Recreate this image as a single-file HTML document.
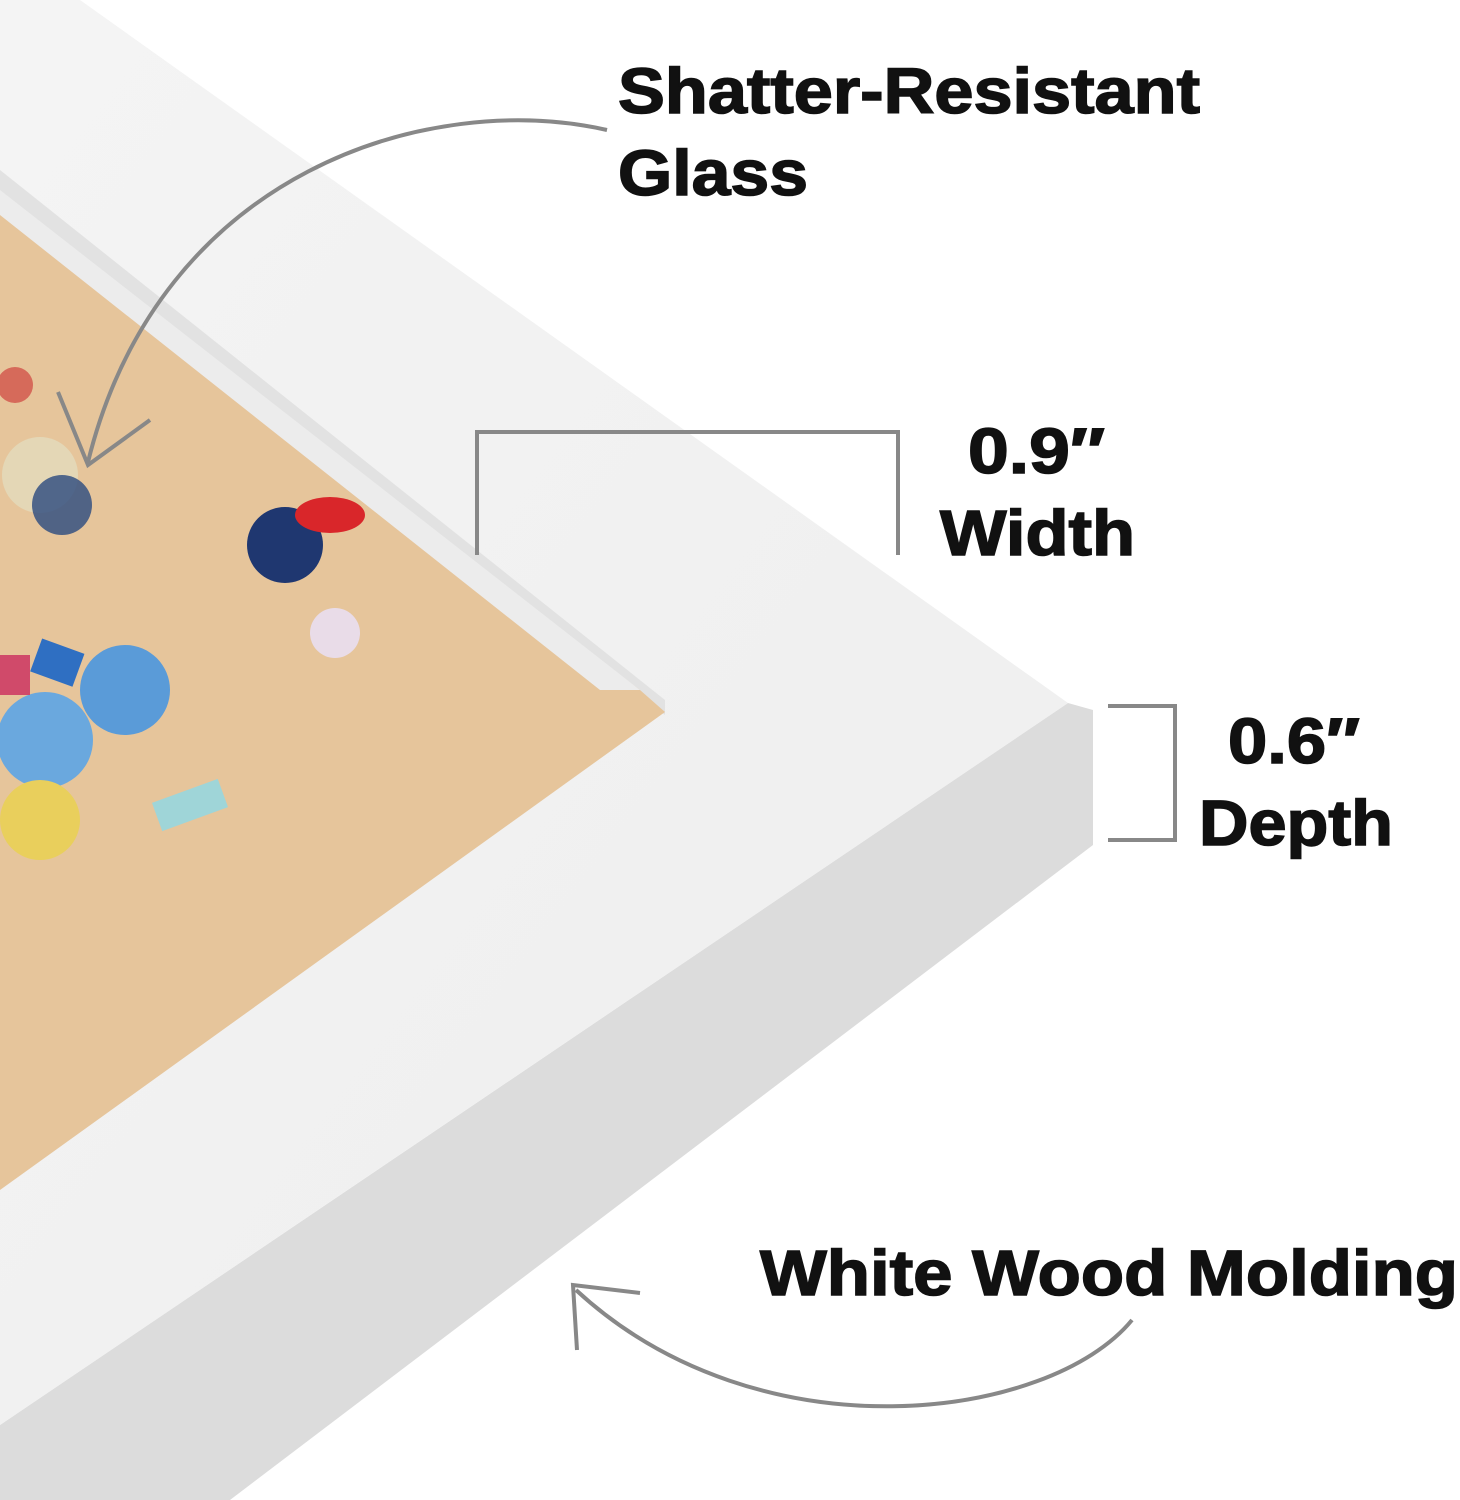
<!DOCTYPE html>
<html><head><style>
html,body{margin:0;padding:0;background:#fff;}
body{width:1460px;height:1500px;position:relative;overflow:hidden;}
svg{position:absolute;left:0;top:0;}
.t{font-family:"Liberation Sans",sans-serif;font-weight:bold;fill:#111;stroke:#111;stroke-width:1.5;}
</style></head><body>
<svg width="1460" height="1500" viewBox="0 0 1460 1500">
<defs>
<linearGradient id="fr" x1="0" y1="0" x2="1" y2="1">
<stop offset="0" stop-color="#f4f4f4"/><stop offset="1" stop-color="#eeeeee"/>
</linearGradient>
</defs>
<polygon points="1068,703 1093,710 1093,845 230,1500 0,1500 0,1425" fill="#dcdcdc"/>
<polygon points="80,0 1068,703 0,1425 0,0" fill="url(#fr)"/>
<polygon points="0,170 665,700 665,715 0,215" fill="#e2e2e2"/>
<polygon points="0,205 640,690 665,712 0,1190" fill="#e6c59b"/>
<polygon points="0,190 640,690 600,690 0,215" fill="#ececec"/>
<circle cx="40" cy="475" r="38" fill="#e4d7b6"/>
<circle cx="62" cy="505" r="30" fill="#2a4a80" opacity="0.8"/>
<circle cx="285" cy="545" r="38" fill="#1f3770"/>
<ellipse cx="330" cy="515" rx="35" ry="18" fill="#d9262a"/>
<circle cx="335" cy="633" r="25" fill="#e9dce8"/>
<rect x="35" y="645" width="45" height="35" fill="#2f6fc2" transform="rotate(20 57 662)"/>
<circle cx="125" cy="690" r="45" fill="#5a9bd8"/>
<circle cx="45" cy="740" r="48" fill="#6aa8de"/>
<circle cx="40" cy="820" r="40" fill="#e9cf5c"/>
<rect x="155" y="790" width="70" height="30" fill="#9fd5d8" transform="rotate(-20 190 805)"/>
<rect x="0" y="655" width="30" height="40" fill="#d04a6a"/>
<circle cx="15" cy="385" r="18" fill="#d66a5a"/>
<polyline points="477,555 477,432 898,432 898,555" fill="none" stroke="#888" stroke-width="4"/>
<polyline points="1108,706 1175,706 1175,840 1108,840" fill="none" stroke="#888" stroke-width="4"/>
<path d="M607,130 C430,90 160,170 88,462" fill="none" stroke="#888" stroke-width="4"/>
<polyline points="58,392 88,465 150,420" fill="none" stroke="#888" stroke-width="4"/>
<path d="M1132,1320 C1050,1420 760,1460 576,1290" fill="none" stroke="#888" stroke-width="4"/>
<polyline points="640,1293 573,1285 577,1350" fill="none" stroke="#888" stroke-width="4"/>
<text class="t" x="618" y="113" font-size="64" textLength="582" lengthAdjust="spacingAndGlyphs">Shatter-Resistant</text>
<text class="t" x="618" y="195" font-size="64" textLength="190" lengthAdjust="spacingAndGlyphs">Glass</text>
<text class="t" x="968" y="473" font-size="64" textLength="137" lengthAdjust="spacingAndGlyphs">0.9″</text>
<text class="t" x="940" y="555" font-size="64" textLength="195" lengthAdjust="spacingAndGlyphs">Width</text>
<text class="t" x="1228" y="763" font-size="64" textLength="132" lengthAdjust="spacingAndGlyphs">0.6″</text>
<text class="t" x="1199" y="845" font-size="64" textLength="194" lengthAdjust="spacingAndGlyphs">Depth</text>
<text class="t" x="760" y="1295" font-size="64" textLength="698" lengthAdjust="spacingAndGlyphs">White Wood Molding</text>
</svg>
</body></html>
